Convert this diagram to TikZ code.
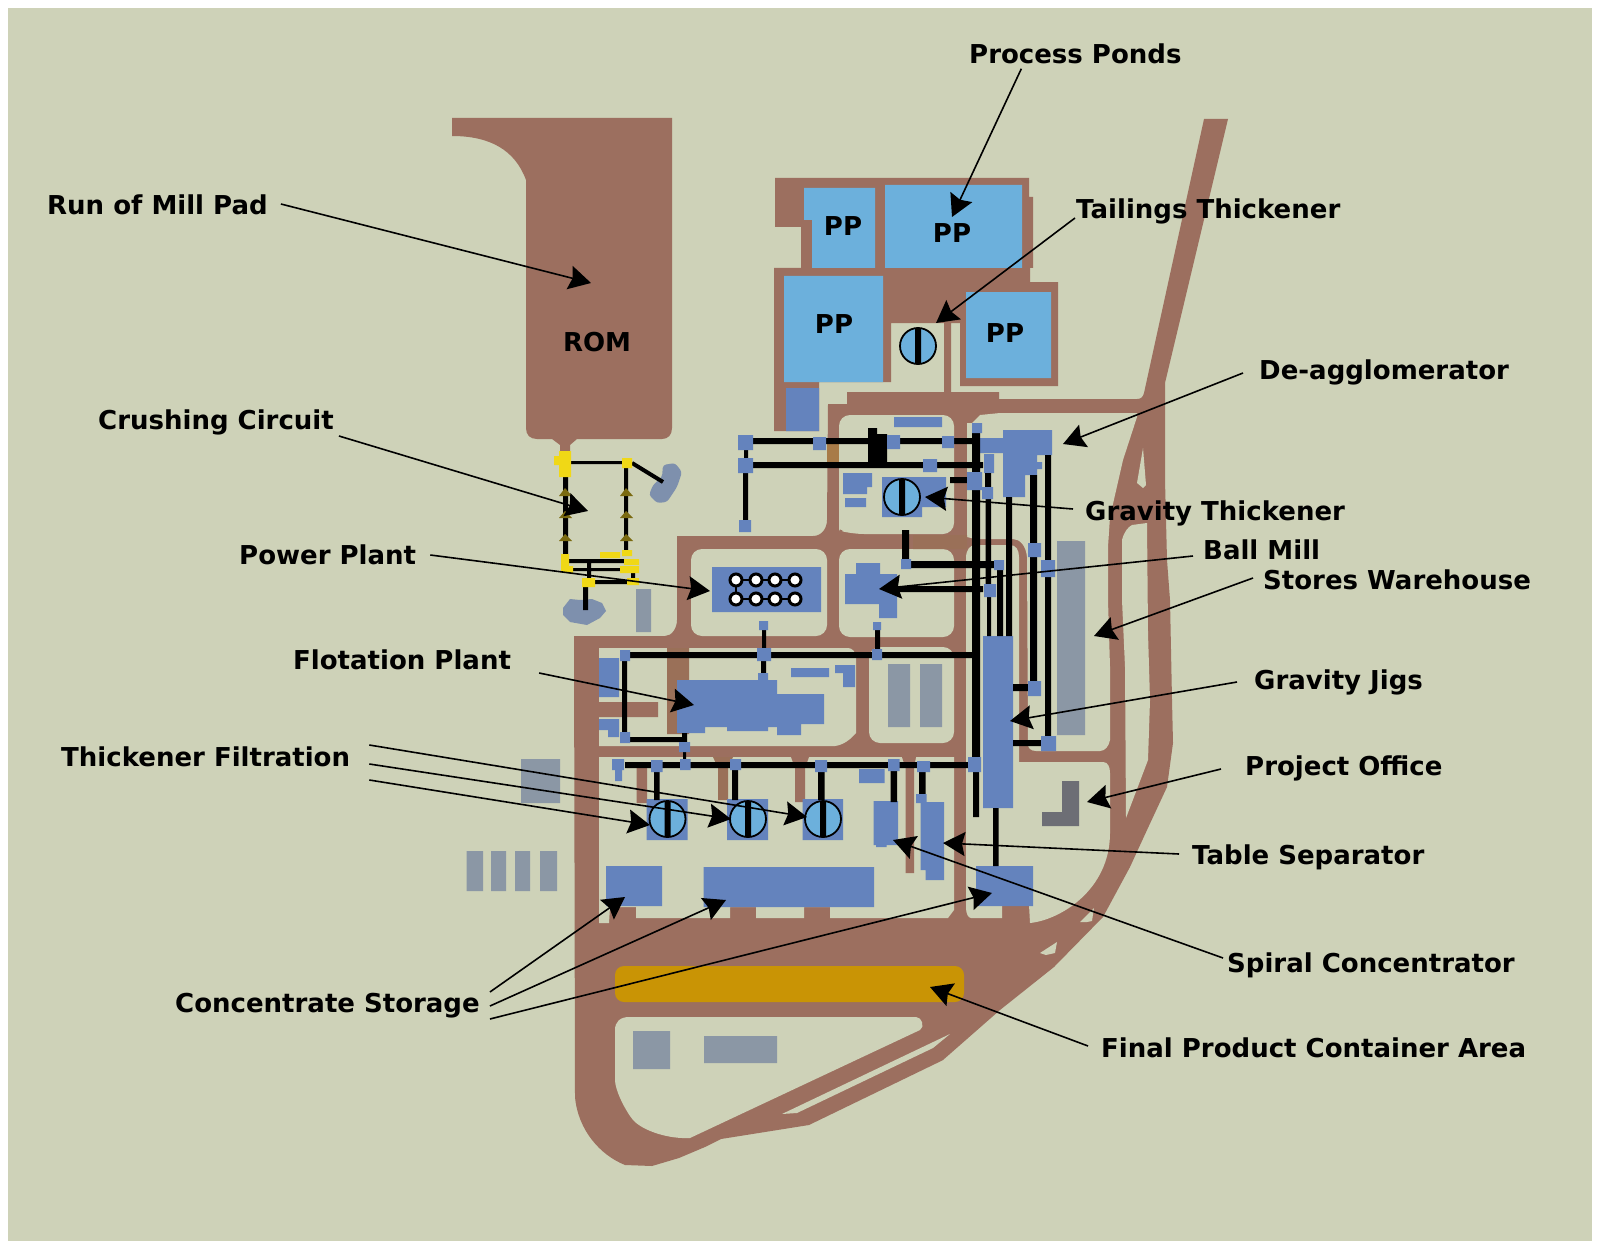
\documentclass[tikz,border=0pt]{standalone}
\usepackage{fontspec}
\setmainfont{DejaVu Sans}
\usepackage{xcolor}
\usetikzlibrary{arrows.meta}
\definecolor{groundc}{HTML}{CED2B8}
\definecolor{roadc}{HTML}{9C6F5F}
\definecolor{cutc}{HTML}{9A7058}
\definecolor{clayc}{HTML}{A87B48}
\definecolor{plantc}{HTML}{6483BD}
\definecolor{pondc}{HTML}{6CB0DC}
\definecolor{storec}{HTML}{8B97A5}
\definecolor{officec}{HTML}{6D6E75}
\definecolor{wastec}{HTML}{7E90AD}
\definecolor{hopperc}{HTML}{F0D816}
\definecolor{conec}{HTML}{7A6A10}
\definecolor{yardc}{HTML}{C99405}
\tikzset{
road/.style={fill=roadc},
island/.style={fill=groundc,rounded corners=11pt},
gap/.style={fill=groundc},
plant/.style={fill=plantc},
pond/.style={fill=pondc},
store/.style={fill=storec},
pipe/.style={fill=black},
hopper/.style={fill=hopperc},
cone/.style={fill=conec},
tname/.style={font=\bfseries\fontsize{26}{30}\selectfont,inner sep=0pt,text height=20pt,text depth=5pt},
sitename/.style={tname,anchor=west},
lead/.style={line width=1.6pt,-{Stealth[length=22pt,width=24pt,inset=3pt]}},
thick ring/.style={draw=black,line width=1.8pt,fill=pondc}
}
\begin{document}
\begin{tikzpicture}[x=1pt,y=-1pt]
\useasboundingbox(0,0)rectangle(1600,1249);
\fill[white](0,0)rectangle(1600,1249);
\fill[groundc](8,8)rectangle(1592,1241);
% run of mill pad
\fill[road](452,118)--(672,118)--(672,428)..controls(672,435)and(668,439)..(662,439)--(577,439)--(570,445)--(570,452)--(560,452)--(560,445)--(552,439)--(537,439)..controls(530,439)and(526,435)..(526,428)--(526,180)..controls(515,150)and(490,136)..(452,136)--cycle;
% ponds
\fill[road](775,178)--(1029,178)--(1029,197)--(1033,197)--(1033,268)--(1030,268)--(1030,282)--(1058,282)--(1058,386)--(960,386)--(960,323)--(951,323)--(951,392)--(944,392)--(944,323)--(891,323)--(891,382)--(819,382)--(819,431)--(774,431)--(774,268)--(801,268)--(801,227)--(775,227)--cycle;
% site roads
\fill[road](574,636)--(665,636)..controls(672,636)and(677,628)..(677,620)--(677,536)--(813,536)..controls(822,536)and(827,528)..(827,520)--(828,404)--(847,404)--(847,392)--(999,392)--(999,399)--(1137,399)..controls(1141,399)and(1143,397)..(1144,393)--(1204,119)--(1228,119)--(1165,383)--(1165,480)--(1167,560)--(1170,600)--(1172,700)--(1173,743)--(1167,787)--(1147,830)--(1130,867)--(1103,917)--(1054,967)--(1000,1010)--(943,1060)--(937,1063)--(809,1125)--(721,1139)--(705,1147)--(679,1158)--(652,1166)--(625,1165)..controls(600,1155)and(578,1130)..(575,1097)--cycle;
% blocks between the roads
\fill[island](839,415)--(954,415)--(954,534)--(853,534)..controls(845,532)and(839,527)..(839,520)--cycle;
\fill[island](691,549)--(827,549)--(827,636)--(691,636)--cycle;
\fill[island](839,549)--(954,549)--(954,637)--(839,637)--cycle;
\fill[island](869,647)--(954,647)--(954,743)--(869,743)--cycle;
\fill[gap](599,648)--(848,648)..controls(852,648)and(856,652)..(856,657)--(856,733)..controls(850,740)and(843,745)..(835,746)--(599,746)--cycle;
\fill[gap](599,757)--(954,757)--(954,910)--(948,918)--(830,918)--(830,907)--(804,907)--(804,918)--(756,918)--(756,907)--(730,907)--(730,918)--(636,918)--(636,907)--(610,907)--(609,923)--(599,923)--cycle;
\fill[gap](971,918)--(1002,918)--(1002,905)--(1029,905)--(1030,923)..controls(1060,920)and(1110,890)..(1110,833)--(1110,773)..controls(1110,767)and(1108,762)..(1103,762)--(1019,762)--(1019,557)..controls(1019,550)and(1016,545)..(1010,545)--(975,545)..controls(970,545)and(966,550)..(966,558)--(966,908)..controls(966,913)and(968,918)..(971,918)--cycle;
\fill[gap](967,423)--(972,423)--(980,415)--(1000,413)--(1137,413)--(1137,417)--(1123,460)--(1110,517)--(1108,547)--(1108,600)--(1110,667)--(1110,740)..controls(1109,746)and(1105,751)..(1100,751)--(1036,751)..controls(1031,751)and(1028,748)..(1028,745)--(1027,557)..controls(1026,546)and(1020,539)..(1013,539)--(975,539)--(967,537)--cycle;
\fill[gap](1122,600)--(1122,540)..controls(1124,532)and(1128,527)..(1132,525)--(1147,523)--(1148,633)--(1150,700)--(1148,760)--(1126,818)--(1125,667)--cycle;
\fill[gap](1143,448)--(1137,483)--(1143,488)--(1146,485)--cycle;
\fill[gap](1080,922)--(1094,908)--(1092,921)--(1087,922)--cycle;
\fill[gap](1040,953)--(1057,942)--(1055,953)--(1046,955)--cycle;
\fill[gap](950,1034)--(933,1048)--(797,1113)--(782,1114)--cycle;
\fill[gap](615,1030)..controls(615,1022)and(620,1017)..(629,1017)--(916,1017)..controls(922,1017)and(925,1027)..(920,1030)--(690,1138)--(682,1138)..controls(660,1137)and(640,1128)..(633,1120)..controls(625,1110)and(615,1090)..(615,1080)--cycle;
% cross strips
\fill[road](599,702)rectangle(658,717)(636.5,768)rectangle(647,803)(905.5,768)rectangle(914,873)(795,768)rectangle(805,802)
(791,757)--(809,757)--(805,768)--(795,768)--cycle(902,757)--(916,757)--(914,768)--(905.5,768)--cycle;
\fill[fill=cutc](667,648)rectangle(689,734)(718,768)rectangle(728,800)(713,757)--(733,757)--(728,768)--(718,768)--cycle(913,535)rectangle(967,549);
\fill[fill=clayc](827,444)rectangle(839,462);
\fill[fill=yardc,rounded corners=9pt](615,966)rectangle(964,1002);
% crushing circuit
\fill[fill=wastec](563,608)--(570,599)--(580,600)--(592,599)--(602,603)--(606,611)--(600,618)--(587,625)--(570,622)--(563,615)--cycle;
\fill[fill=wastec,rounded corners=3pt](663,465)--(675,463)--(682,472)--(677,487)--(667,502)--(657,503)--(649,495)--(653,485)--(662,477)--cycle;
\fill[pipe](571,461)rectangle(622,464)(563,477)rectangle(568,554)(624,468)rectangle(628,550)(569,559)rectangle(624,563)(573,568)rectangle(620,571)(587,563)rectangle(591,578)(595,580)rectangle(627,584)(631,573)rectangle(635,578)(583,587)rectangle(588,610);
\draw[line width=4pt](632,463)--(663,482);
\fill[hopper](559,451)rectangle(571,477)(554,456)rectangle(559,465)(622,458)rectangle(632,468)(561,554)rectangle(569,572)(569,566)rectangle(573,573)(600,552)rectangle(620,558)(622,550)rectangle(632,556)(624,559)rectangle(639,565)(620,566)rectangle(639,573)(627,578)rectangle(639,585)(582,578)rectangle(595,587);
\fill[cone](559,496)--(572,496)--(565,488)--cycle(559,518)--(572,518)--(565,511)--cycle(559,541)--(572,541)--(565,534)--cycle(620,496)--(633,496)--(626,488)--cycle(620,518)--(633,518)--(626,511)--cycle(620,541)--(633,541)--(626,534)--cycle;
% ponds and tailings
\fill[pond](804,188)--(875,188)--(875,268)--(812,268)--(812,220)--(804,220)--cycle(885,185)rectangle(1022,268)(784,276)rectangle(883,382)(966,292)rectangle(1051,378);
% buildings
\fill[store](636,589)rectangle(651,632)(888,664)rectangle(910,727)(920,664)rectangle(942,727)(1057,541)rectangle(1085,735)(521,759)rectangle(560,803)(466.5,851)rectangle(483,891)(491,851)rectangle(506,891)(515,851)rectangle(530,891)(540,851)rectangle(557,891)(633,1031)rectangle(670,1069)(704,1036)rectangle(777,1063);
\fill[fill=officec](1062,781)rectangle(1079,826)(1042,812)rectangle(1062,826);
\fill[plant](786,388)rectangle(819,431)(894,417)rectangle(942,427)(843,473)rectangle(872,487)(843,487)rectangle(867,494)(845,498)rectangle(866,507)(882,477)rectangle(922,517)(922,477)rectangle(946,507)(712,567)rectangle(821,612)(845,574)rectangle(897,604)(856,563)rectangle(880,574)(879,604)rectangle(897,618)(599,658)rectangle(619,697)(791,668)rectangle(829,677)(983,636)rectangle(1013,808)(1003,430)rectangle(1052,455)(980,438)rectangle(1003,453)(1003,455)rectangle(1037,475)(1037,462)rectangle(1042,469)(1003,475)rectangle(1025,497)(984,454)rectangle(994,473)(859,769)rectangle(884.5,783)(646.5,799)rectangle(687.5,840)(727,799)rectangle(768,840)(802.6,799)rectangle(843,840)(873.5,801)rectangle(898,845)(876,845)rectangle(886.5,847)(920.5,802)rectangle(944,870)(925.5,870)rectangle(944,880)(606,866)rectangle(662,906)(703.5,867)rectangle(874,907)(976,866)rectangle(1033,906);
\fill[plant](677,680)--(777,680)--(777,694)--(824,694)--(824,724)--(801,724)--(801,735)--(777,735)--(777,727)--(768,727)--(768,731)--(727,731)--(727,727)--(705,727)--(705,733)--(677,733)--cycle(599,719)--(619,719)--(619,737)--(608,737)--(608,730)--(599,730)--cycle(835,665)--(855,665)--(855,687)--(843,687)--(843,673)--(835,673)--cycle;
% pipe runs
\fill[pipe](753,438)rectangle(972,444)(868,428)rectangle(877,435)(868,434)rectangle(887,463)(753,462)rectangle(983,468)(744,450)rectangle(748,458)(743,473)rectangle(748,520)(972,423)rectangle(980,757)(973,772)rectangle(979,817)(950,477)rectangle(967,483)(985,473)rectangle(991,487)(985.5,499)rectangle(991,584)(987,597)rectangle(991,636)(997,570)rectangle(1003,636)(1006,497)rectangle(1012,636)(1030,475)rectangle(1037,682)(1013,684)rectangle(1028,691)(1045,455)rectangle(1051,736)(1013,740)rectangle(1041,746)(902,530)rectangle(909,560)(911,561)rectangle(995,568)(897,586)rectangle(983,592)(875,630)rectangle(880,650)(630,652)rectangle(975,658)(762,630)rectangle(766,648)(761,661)rectangle(766,673)(622,661)rectangle(627,732)(630,737)rectangle(683,742)(682,733)rectangle(687,742)(683,752)rectangle(686,760)(625,762)rectangle(968,768)(654,772)rectangle(659.5,800)(732,770)rectangle(738,800)(818,772)rectangle(824.5,800)(890.6,771)rectangle(897,802)(919,772)rectangle(925.5,795)(993,808)rectangle(998.5,866);
% pipe stations
\fill[plant](738,435)rectangle(753,450)(738,458)rectangle(753,473)(739,520)rectangle(751,532)(813,437)rectangle(826,450)(887,435)rectangle(900,449)(942,436)rectangle(954,448)(923,459)rectangle(937,472)(972,423)rectangle(982,433)(967,472)rectangle(982,490)(982,487)rectangle(993,499)(1028,543)rectangle(1041,557)(1041,560)rectangle(1055,577)(1028,681)rectangle(1041,696)(1041,736)rectangle(1056,751)(901,559)rectangle(911,569)(994,560)rectangle(1004,570)(984,584)rectangle(996,597)(873,622)rectangle(881,630)(872,649)rectangle(882,660)(620,650)rectangle(630,661)(757,648)rectangle(771,661)(759,621)rectangle(768,630)(758,673)rectangle(768,681)(620,732)rectangle(630,743)(679,742)rectangle(690,752)(612,759)rectangle(624,770)(615,770)rectangle(622,781)(651,760)rectangle(662.5,772)(680,759)rectangle(690.5,770)(730,759)rectangle(741,770)(815,760)rectangle(827,772)(888,759)rectangle(899.5,771)(917,761)rectangle(930,772)(916,794)rectangle(926.6,803)(968,757)rectangle(981,772);
% thickeners
\draw[thick ring](918,346)circle[radius=18]
(902,497)circle[radius=18]
(667.5,819)circle[radius=18]
(748,819)circle[radius=18]
(823,819)circle[radius=18];
\fill[pipe](915,328)rectangle(921,364)(899,479)rectangle(905,515)(664.5,801)rectangle(670.5,837)(745,801)rectangle(751,837)(820,801)rectangle(826,837);
% generator sets
\draw[line width=2pt](736,580)--(795,580)(736,599)--(795,599)(736,580)--(736,599);
\draw[line width=3pt,fill=white](736,580)circle[radius=6](756,580)circle[radius=6](775,580)circle[radius=6](795,580)circle[radius=6]
(736,599)circle[radius=6](756,599)circle[radius=6](775,599)circle[radius=6](795,599)circle[radius=6];
% names
\node[tname](rom)at(597,344){ROM};
\node[tname](pp1)at(843,228){PP};
\node[tname](pp2)at(952,235){PP};
\node[tname](pp3)at(834,326){PP};
\node[tname](pp4)at(1005,335){PP};
\node[sitename](ponds)at(969,56){Process Ponds};
\node[sitename](runpad)at(47,207){Run of Mill Pad};
\node[sitename](tails)at(1076,211){Tailings Thickener};
\node[sitename](deagg)at(1259,372){De-agglomerator};
\node[sitename](crush)at(98,422){Crushing Circuit};
\node[sitename](gravthick)at(1085,513){Gravity Thickener};
\node[sitename](ballmill)at(1203,552){Ball Mill};
\node[sitename](stores)at(1263,582){Stores Warehouse};
\node[sitename](power)at(239,557){Power Plant};
\node[sitename](flot)at(293,662){Flotation Plant};
\node[sitename](jigs)at(1254,682){Gravity Jigs};
\node[sitename](filt)at(61,759){Thickener Filtration};
\node[sitename](office)at(1245,768){Project Office};
\node[sitename](tablesep)at(1192,857){Table Separator};
\node[sitename](spiral)at(1227,965){Spiral Concentrator};
\node[sitename](store)at(175,1005){Concentrate Storage};
\node[sitename](yard)at(1101,1050){Final Product Container Area};
% arrow ends
\coordinate(romto)at(591,283);
\coordinate(pondsto)at(952,217);
\coordinate(tailsto)at(936,323);
\coordinate(deaggto)at(1063,444);
\coordinate(crushto)at(588,511);
\coordinate(gravto)at(925,497);
\coordinate(ballto)at(879,589);
\coordinate(storesto)at(1094,636);
\coordinate(powerto)at(710,591);
\coordinate(flotto)at(694,705);
\coordinate(jigsto)at(1010,721);
\coordinate(officeto)at(1087,802);
\coordinate(tableto)at(943,843);
\coordinate(spiralto)at(893,840);
\coordinate(yardto)at(930,987);
\coordinate(filtto1)at(807,817);
\coordinate(filtto2)at(731,819);
\coordinate(filtto3)at(650,825);
\coordinate(storeto1)at(625,897);
\coordinate(storeto2)at(726,900);
\coordinate(storeto3)at(992,893);
\draw[lead]([shift={(13pt,3pt)}]runpad.east)--(romto);
\draw[lead]([xshift=-54pt]ponds.south)--(pondsto);
\draw[lead]([shift={(-1pt,-7pt)}]tails.west)--(tailsto);
\draw[lead]([shift={(-16pt,-1pt)}]deagg.west)--(deaggto);
\draw[lead]([shift={(5pt,-14pt)}]crush.east)--(crushto);
\draw[lead]([shift={(-12pt,4pt)}]gravthick.west)--(gravto);
\draw[lead]([shift={(-10pt,-4pt)}]ballmill.west)--(ballto);
\draw[lead]([shift={(-10pt,4pt)}]stores.west)--(storesto);
\draw[lead]([shift={(14pt,2pt)}]power.east)--(powerto);
\draw[lead]([shift={(28pt,-11pt)}]flot.east)--(flotto);
\draw[lead]([shift={(-17pt,0pt)}]jigs.west)--(jigsto);
\draw[lead]([shift={(-24pt,-1pt)}]office.west)--(officeto);
\draw[lead]([shift={(-13pt,3pt)}]tablesep.west)--(tableto);
\draw[lead]([shift={(-4pt,7pt)}]spiral.west)--(spiralto);
\draw[lead]([shift={(-13pt,4pt)}]yard.west)--(yardto);
\draw[lead]([shift={(19pt,14pt)}]filt.east)--(filtto1);
\draw[lead]([shift={(19pt,-5pt)}]filt.east)--(filtto2);
\draw[lead]([shift={(19pt,-21pt)}]filt.east)--(filtto3);
\draw[lead]([shift={(10pt,13pt)}]store.east)--(storeto1);
\draw[lead]([shift={(10pt,-1pt)}]store.east)--(storeto2);
\draw[lead]([shift={(10pt,-14pt)}]store.east)--(storeto3);
\end{tikzpicture}
\end{document}
